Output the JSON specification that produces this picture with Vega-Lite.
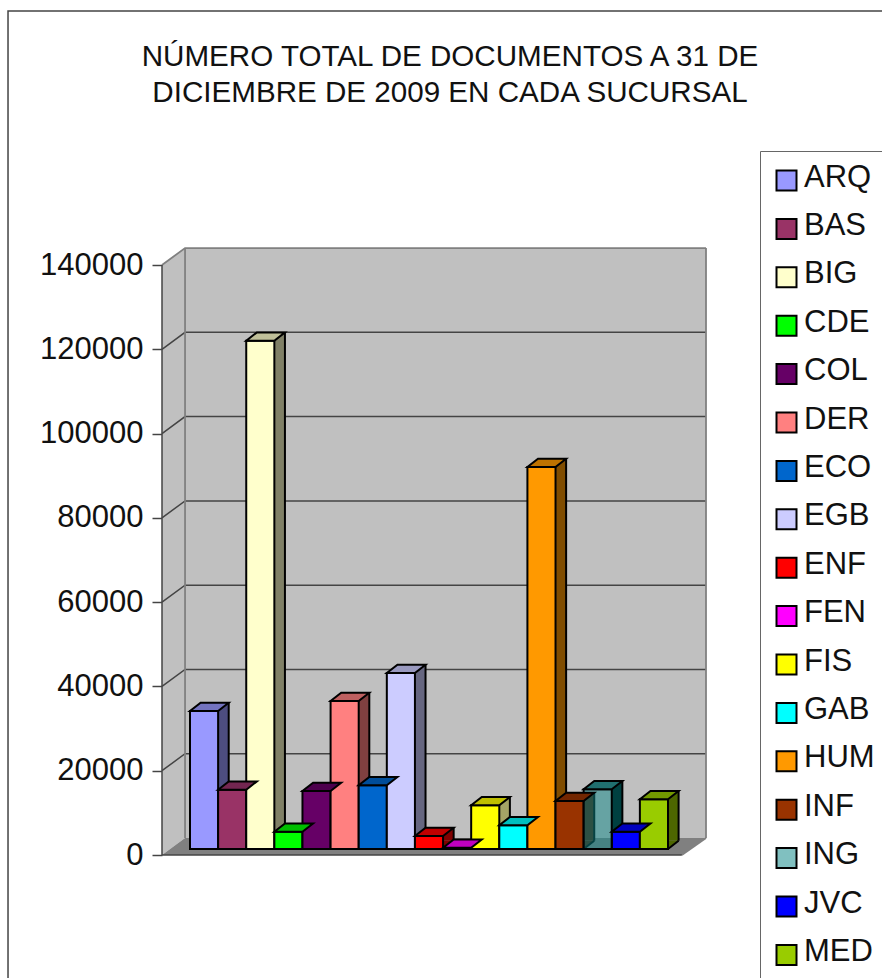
{"$schema":"https://vega.github.io/schema/vega-lite/v6.json","autosize":"none","width":544,"height":607,"padding":{"left":162,"top":248,"right":176,"bottom":123},"background":"white","config":{"view":{"stroke":null},"font":"Liberation Sans"},"title":{"text":["NÚMERO TOTAL DE DOCUMENTOS A 31 DE","DICIEMBRE DE 2009 EN CADA SUCURSAL"],"font":"Liberation Sans","fontSize":29.6,"fontWeight":"normal","color":"#111111","lineHeight":36,"anchor":"middle","frame":"group","dx":16,"offset":-98},"datasets":{"bars":[{"name":"ARQ","value":32750},{"name":"BAS","value":14070},{"name":"BIG","value":120620},{"name":"CDE","value":4100},{"name":"COL","value":13760},{"name":"DER","value":35120},{"name":"ECO","value":15120},{"name":"EGB","value":41770},{"name":"ENF","value":3085},{"name":"FEN","value":300},{"name":"FIS","value":10370},{"name":"GAB","value":5620},{"name":"HUM","value":90650},{"name":"INF","value":11390},{"name":"ING","value":14170},{"name":"JVC","value":4100},{"name":"MED","value":11790}],"grid":[{"part":"g20","d":0,"value":20000},{"part":"g20","d":0.82,"value":24034},{"part":"g20","d":19.36,"value":24034},{"part":"g40","d":0,"value":40000},{"part":"g40","d":0.82,"value":44034},{"part":"g40","d":19.36,"value":44034},{"part":"g60","d":0,"value":60000},{"part":"g60","d":0.82,"value":64034},{"part":"g60","d":19.36,"value":64034},{"part":"g80","d":0,"value":80000},{"part":"g80","d":0.82,"value":84034},{"part":"g80","d":19.36,"value":84034},{"part":"g100","d":0,"value":100000},{"part":"g100","d":0.82,"value":104034},{"part":"g100","d":19.36,"value":104034},{"part":"g120","d":0,"value":120000},{"part":"g120","d":0.82,"value":124034},{"part":"g120","d":19.36,"value":124034}],"edges":[{"part":"top","d":0,"value":140000},{"part":"top","d":0.82,"value":144034},{"part":"top","d":19.36,"value":144034},{"part":"right","d":19.36,"value":144034},{"part":"right","d":19.36,"value":4034},{"part":"inner","d":0.82,"value":144034},{"part":"inner","d":0.82,"value":4034},{"part":"diag","d":18.5,"value":0},{"part":"diag","d":19.36,"value":4034}],"front":[{"part":"left","d":0,"value":140000},{"part":"left","d":0,"value":0},{"part":"base","d":0,"value":0},{"part":"base","d":18.5,"value":0}]},"encoding":{"y":{"field":"value","type":"quantitative","scale":{"domain":[0,144043],"nice":false,"zero":false},"axis":{"title":null,"domain":false,"grid":false,"values":[0,20000,40000,60000,80000,100000,120000,140000],"format":"d","labelFont":"Liberation Sans","labelFontSize":31,"labelColor":"#111111","labelPadding":9,"tickSize":10,"tickColor":"#444444","tickWidth":1.5}}},"layer":[{"encoding":{"x":{"field":"d","type":"quantitative","scale":{"domain":[0,19.36],"nice":false,"zero":false},"axis":null}},"layer":[{"data":{"values":[{"d":-5.48,"d2":30,"value":200285,"value2":-40000}]},"mark":{"type":"rect","fill":null,"fillOpacity":0,"stroke":"#444444","strokeWidth":1.5},"encoding":{"x2":{"field":"d2"},"y2":{"field":"value2"}}},{"data":{"values":[{"d":0,"value":140000,"value2":0},{"d":0.82,"value":144034,"value2":4034}]},"mark":{"type":"area","color":"#C0C0C0"},"encoding":{"y2":{"field":"value2"}}},{"data":{"values":[{"d":0.82,"value":144034,"value2":4034},{"d":19.36,"value":144034,"value2":4034}]},"mark":{"type":"area","color":"#C0C0C0"},"encoding":{"y2":{"field":"value2"}}},{"data":{"values":[{"d":0,"value":0,"value2":0},{"d":0.82,"value":4034,"value2":0},{"d":18.5,"value":4034,"value2":0},{"d":19.36,"value":4034,"value2":4034}]},"mark":{"type":"area","color":"#808080"},"encoding":{"y2":{"field":"value2"}}},{"data":{"name":"grid"},"mark":{"type":"line","color":"#444444","strokeWidth":1.5},"encoding":{"detail":{"field":"part"}}},{"data":{"name":"edges"},"mark":{"type":"line","color":"#808080","strokeWidth":1.8},"encoding":{"detail":{"field":"part"}}},{"data":{"name":"front"},"mark":{"type":"line","color":"#444444","strokeWidth":1.5},"encoding":{"detail":{"field":"part"}}}]},{"data":{"name":"bars"},"encoding":{"x":{"field":"name","type":"nominal","sort":null,"scale":{"domain":["ARQ","BAS","BIG","CDE","COL","DER","ECO","EGB","ENF","FEN","FIS","GAB","HUM","INF","ING","JVC","MED"],"range":[28,506],"paddingInner":0,"paddingOuter":0},"axis":null}},"layer":[{"mark":{"type":"bar","width":10.6,"xOffset":19.35,"yOffset":-14.3,"y2Offset":-14.3},"encoding":{"y2":{"datum":0},"fill":{"field":"name","type":"nominal","legend":null,"scale":{"domain":["ARQ","BAS","BIG","CDE","COL","DER","ECO","EGB","ENF","FEN","FIS","GAB","HUM","INF","ING","JVC","MED"],"range":["#4D4D80","#4D1A33","#808066","#008000","#330033","#804040","#003366","#666680","#800000","#800080","#A3A366","#008080","#804D00","#4D1A00","#004040","#000080","#4D6600"]}}}},{"mark":{"type":"point","shape":"M14.05,0L24.65,-8.3L14.05,-8.3Z","size":4,"filled":true,"opacity":1,"yOffset":-6},"encoding":{"y":{"datum":0},"fill":{"field":"name","type":"nominal","legend":null,"scale":{"domain":["ARQ","BAS","BIG","CDE","COL","DER","ECO","EGB","ENF","FEN","FIS","GAB","HUM","INF","ING","JVC","MED"],"range":["#4D4D80","#4D1A33","#808066","#008000","#330033","#804040","#003366","#666680","#800000","#800080","#A3A366","#008080","#804D00","#4D1A00","#004040","#000080","#4D6600"]}}}},{"mark":{"type":"rule","color":"#000000","strokeWidth":2,"xOffset":24.65,"yOffset":-14.3,"y2Offset":-14.3},"encoding":{"y2":{"datum":0}}},{"mark":{"type":"point","shape":"M14.05,0L24.65,-8.3","size":4,"filled":false,"opacity":1,"color":"#000000","strokeWidth":2,"yOffset":-6},"encoding":{"y":{"datum":0}}},{"transform":[{"filter":"datum.name !== 'ING'"}],"mark":{"type":"bar","stroke":"#000000","strokeWidth":2,"yOffset":-6,"y2Offset":-6},"encoding":{"y2":{"datum":0},"fill":{"field":"name","type":"nominal","scale":{"domain":["ARQ","BAS","BIG","CDE","COL","DER","ECO","EGB","ENF","FEN","FIS","GAB","HUM","INF","ING","JVC","MED"],"range":["#9999FF","#993366","#FFFFCC","#00FF00","#660066","#FF8080","#0066CC","#CCCCFF","#FF0000","#FF00FF","#FFFF00","#00FFFF","#FF9900","#993300","#80C0C0","#0000FF","#99CC00"]},"legend":{"orient":"none","legendX":598,"legendY":-97,"title":null,"symbolType":"square","symbolSize":400,"symbolOffset":-3,"symbolStrokeColor":"#000000","symbolStrokeWidth":2,"labelFont":"Liberation Sans","labelFontSize":31,"labelColor":"#111111","labelOffset":2,"labelLimit":200,"rowPadding":14.4,"padding":14,"fillColor":"#FFFFFF","strokeColor":"#666666","encode":{"labels":{"update":{"dy":{"value":-3}}}}}}}},{"transform":[{"filter":"datum.name === 'ING'"}],"mark":{"type":"bar","fill":"#0C8686","fillOpacity":0.5,"stroke":"#000000","strokeWidth":2,"yOffset":-6,"y2Offset":-6},"encoding":{"y2":{"datum":0}}},{"mark":{"type":"point","shape":"M-14.05,0L14.05,0L24.65,-8.3L-3.45,-8.3Z","size":4,"filled":true,"opacity":1,"stroke":"#000000","strokeWidth":2,"yOffset":-6},"encoding":{"fill":{"field":"name","type":"nominal","legend":null,"scale":{"domain":["ARQ","BAS","BIG","CDE","COL","DER","ECO","EGB","ENF","FEN","FIS","GAB","HUM","INF","ING","JVC","MED"],"range":["#7373BF","#732650","#BFBF99","#00BF00","#4D004D","#BF6060","#004D99","#9999BF","#BF0000","#BF00BF","#BFBF00","#00BFBF","#BF7300","#732600","#206F6F","#0000BF","#739900"]}}}}],"resolve":{"scale":{"fill":"independent"}}}],"resolve":{"scale":{"x":"independent"}}}
